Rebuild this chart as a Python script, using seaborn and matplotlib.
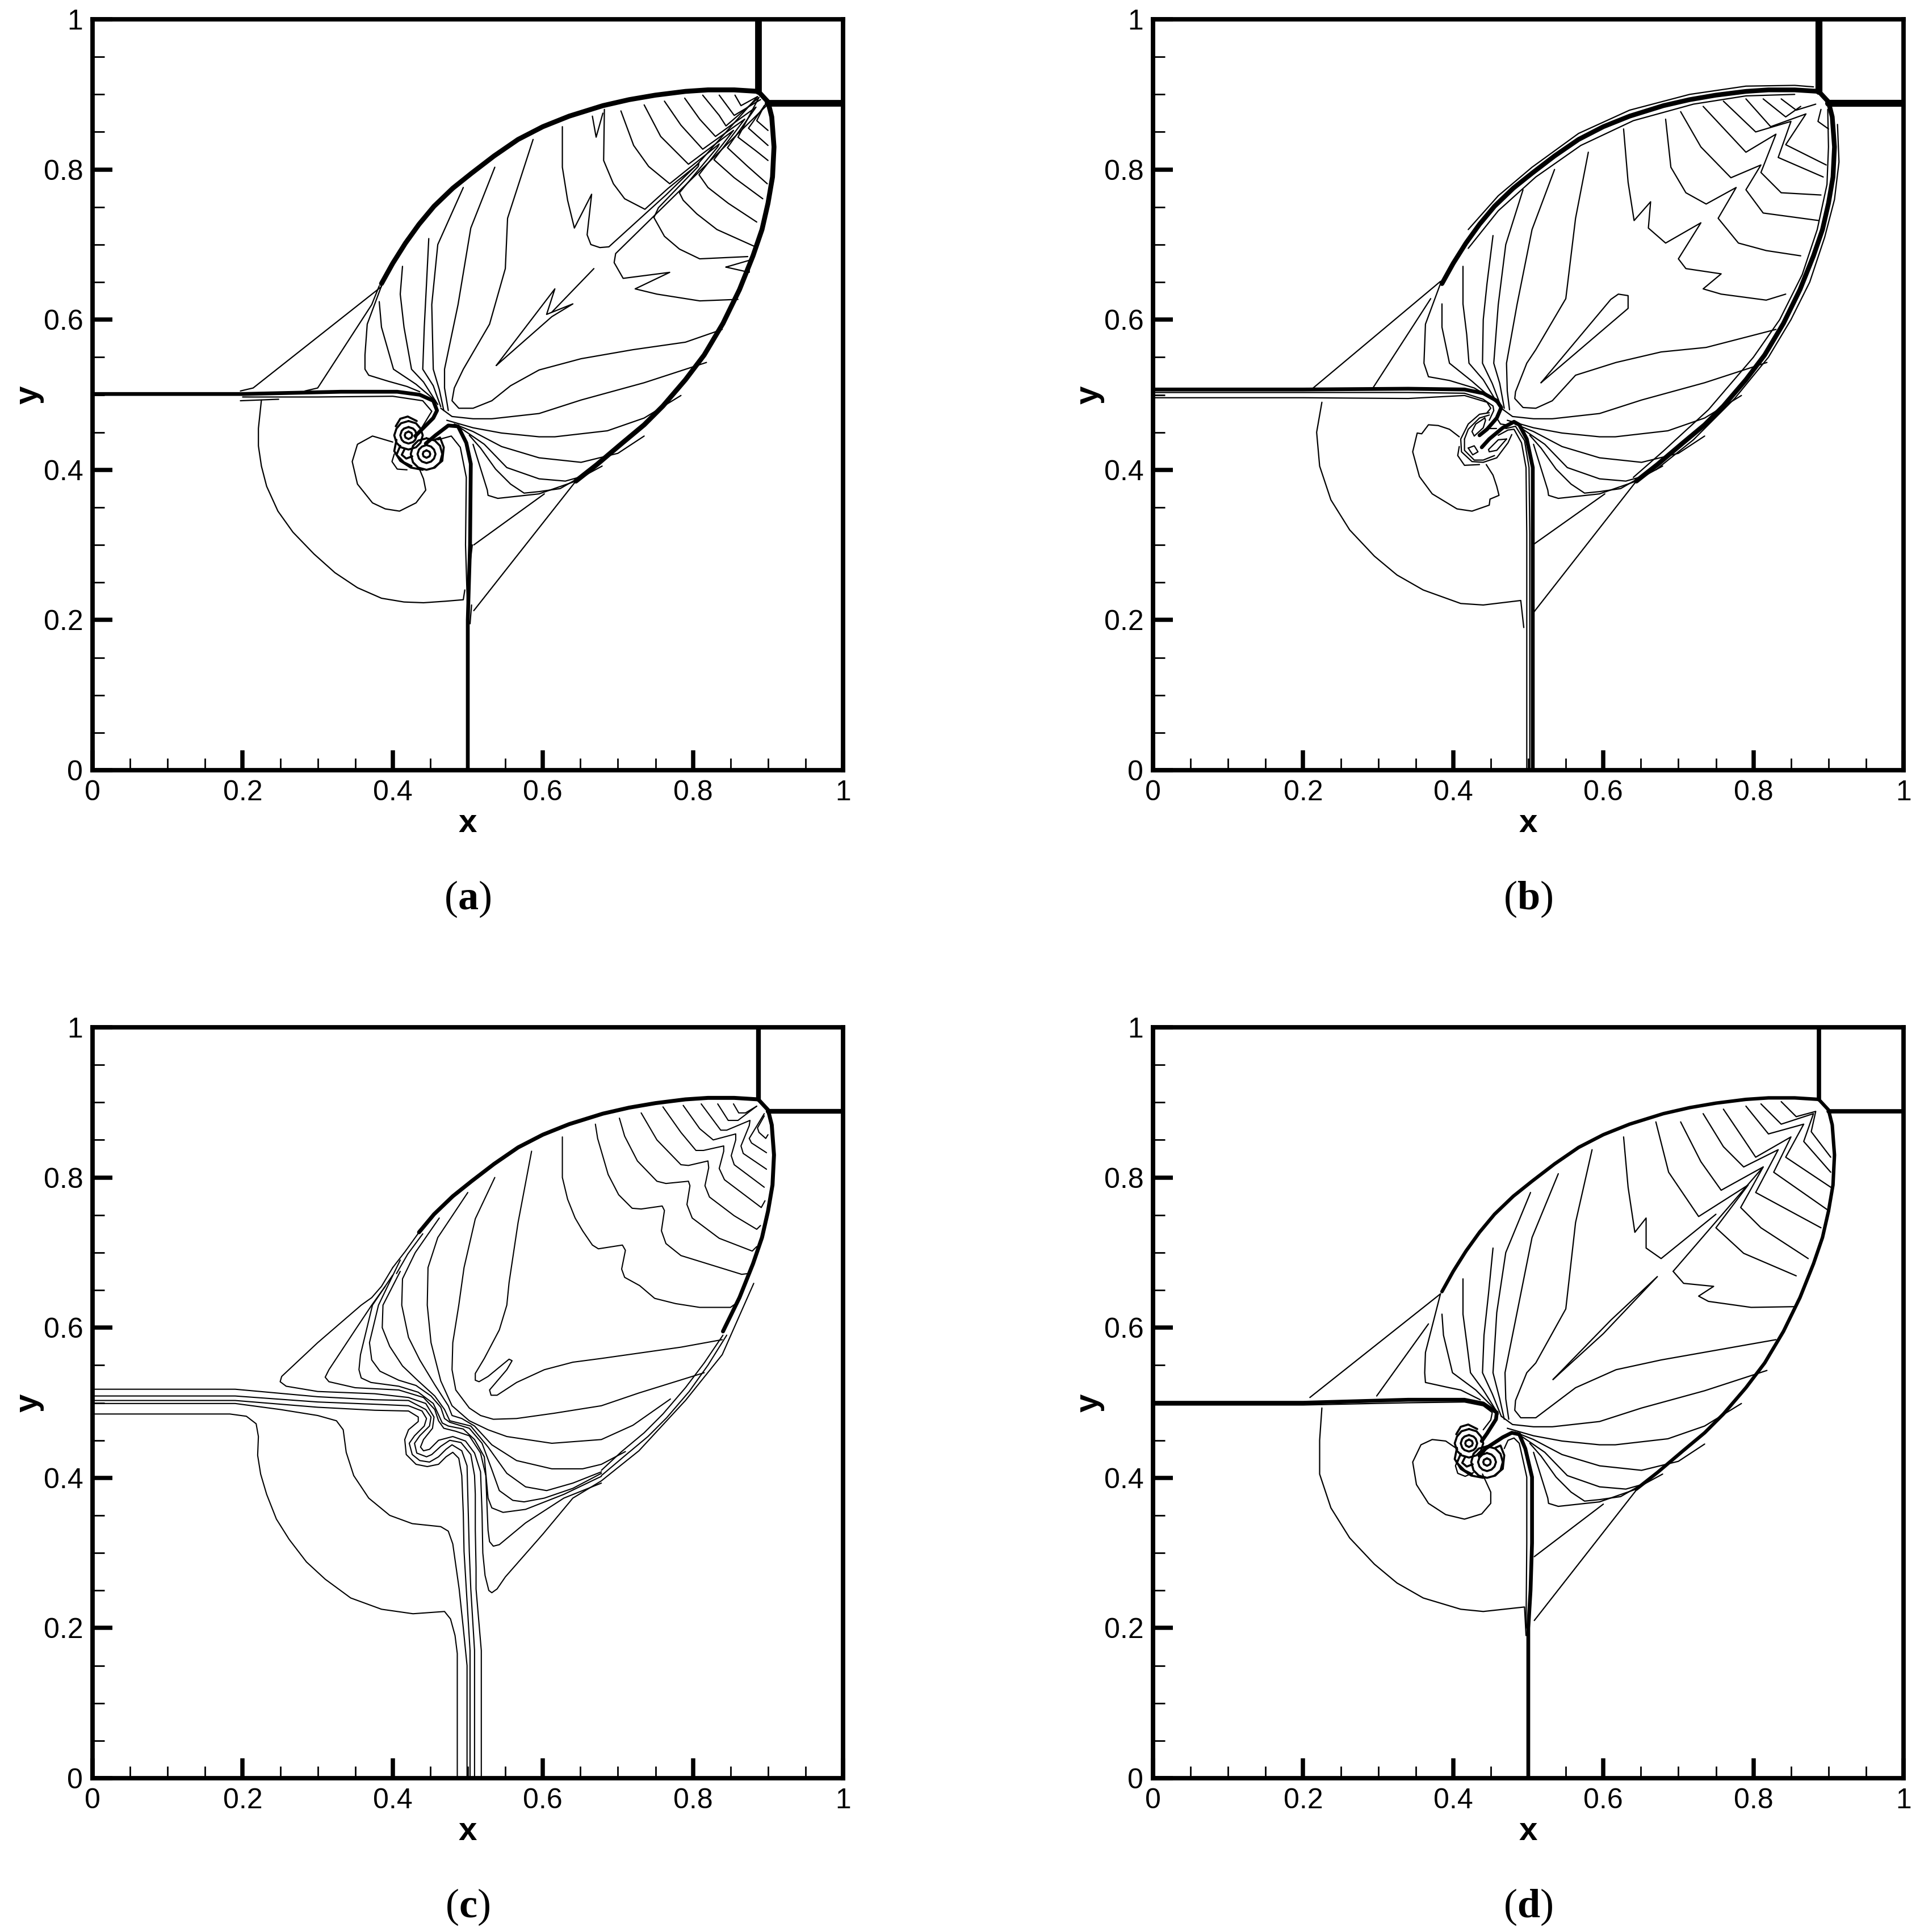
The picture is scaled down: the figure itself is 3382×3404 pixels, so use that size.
import matplotlib
matplotlib.use('Agg')
import matplotlib.pyplot as plt
import pandas as pd
import seaborn as sns

sns.set_theme(style='ticks', rc={'text.color': 'black', 'axes.labelcolor': 'black', 'axes.edgecolor': 'black',
                                 'xtick.color': 'black', 'ytick.color': 'black'})
plt.rcParams['font.family'] = ['Liberation Sans', 'DejaVu Sans']
plt.rcParams['mathtext.fontset'] = 'custom'
plt.rcParams['mathtext.rm'] = 'Liberation Serif'
plt.rcParams['mathtext.bf'] = 'Liberation Serif:bold'

major_ticks = [0, 0.2, 0.4, 0.6, 0.8, 1]
major_labels = ['0', '0.2', '0.4', '0.6', '0.8', '1']
minor_ticks = [0.05, 0.1, 0.15, 0.25, 0.3, 0.35, 0.45, 0.5, 0.55, 0.65, 0.7, 0.75, 0.85, 0.9, 0.95]
captions = ['a', 'b', 'c', 'd']

# contours, (x, y) per curve
bow = [(.385,.648),(.40,.675),(.417,.702),(.435,.727),(.455,.751),(.48,.775),(.505,.795),(.535,.818),(.567,.84),(.60,.857),(.635,.871),(.68,.885),(.715,.893),(.75,.899),(.79,.904),(.82,.906),(.855,.906),(.887,.904),(.9,.89),(.905,.87),(.908,.83),(.906,.79),(.90,.755),(.892,.72),(.88,.685),(.862,.64),(.84,.595),(.815,.553),(.79,.52),(.76,.485),(.735,.46),(.705,.435),(.672,.407),(.644,.385)]
c_bow = [(.435,.727),(.455,.751),(.48,.775),(.505,.795),(.535,.818),(.567,.84),(.60,.857),(.635,.871),(.68,.885),(.715,.893),(.75,.899),(.79,.904),(.82,.906),(.855,.906),(.887,.904),(.9,.89),(.905,.87),(.908,.83),(.906,.79),(.90,.755),(.892,.72),(.88,.685),(.862,.64),(.84,.595)]
slip_top = [(.887,1),(.887,.904)]
slip_right = [(.9,.888),(1,.888)]

fan_lower = [
    [(.464,.482),(.479,.471),(.507,.468),(.532,.468),(.595,.475),(.651,.493),(.735,.516),(.818,.543)],
    [(.472,.466),(.507,.456),(.545,.449),(.595,.444),(.616,.444),(.686,.452),(.735,.469),(.784,.499)],
    [(.482,.461),(.507,.451),(.545,.431),(.595,.416),(.651,.41),(.70,.422),(.735,.445)],
    [(.49,.456),(.522,.434),(.552,.403),(.595,.388),(.63,.385),(.655,.392),(.679,.405)],
    [(.502,.446),(.517,.429),(.537,.401),(.557,.381),(.575,.369),(.595,.371),(.623,.375),(.651,.391)],
    [(.507,.434),(.526,.373),(.527,.366),(.54,.362),(.595,.368),(.644,.385)],
]

vortex_rings = [
    [(.421,.465),(.431,.462),(.437,.455),(.44,.446),(.437,.436),(.431,.43),(.421,.427),(.411,.43),(.405,.436),(.402,.446),(.405,.455),(.411,.462),(.421,.465)],
    [(.421,.457),(.427,.455),(.43,.452),(.432,.446),(.43,.44),(.427,.437),(.421,.435),(.415,.437),(.412,.44),(.41,.446),(.412,.452),(.415,.455),(.421,.457)],
    [(.421,.451),(.425,.449),(.426,.446),(.425,.443),(.421,.441),(.417,.443),(.416,.446),(.417,.449),(.421,.451)],
    [(.445,.442),(.456,.439),(.463,.432),(.466,.421),(.463,.41),(.456,.403),(.445,.4),(.434,.403),(.427,.41),(.424,.421),(.427,.432),(.434,.439),(.445,.442)],
    [(.445,.433),(.451,.431),(.455,.427),(.457,.421),(.455,.415),(.451,.411),(.445,.409),(.439,.411),(.435,.415),(.433,.421),(.435,.427),(.439,.431),(.445,.433)],
    [(.445,.426),(.449,.424),(.45,.421),(.449,.418),(.445,.416),(.441,.418),(.44,.421),(.441,.424),(.445,.426)],
    [(.405,.44),(.402,.425),(.41,.412),(.424,.403),(.44,.4)],
    [(.41,.432),(.405,.42),(.415,.41),(.425,.405)],
    [(.416,.428),(.412,.42),(.418,.415),(.426,.418)],
    [(.404,.458),(.41,.468),(.42,.471),(.432,.465)],
    [(.456,.44),(.463,.443),(.468,.43),(.466,.412),(.455,.403)],
]

a_thick = [
    [(0,.501),(.2,.501),(.331,.504),(.406,.504),(.436,.5),(.454,.492),(.459,.479),(.454,.469),(.439,.454),(.43,.445)],
    [(.5,0),(.5,.2),(.503,.3),(.504,.408),(.498,.436),(.487,.458),(.474,.459),(.457,.446),(.444,.435)],
]
a_thin = [
    [(.197,.505),(.214,.509),(.385,.644)],
    [(.283,.505),(.30,.509),(.372,.62),(.382,.645)],
    [(.385,.645),(.366,.594),(.363,.553),(.363,.534),(.368,.526),(.394,.518),(.419,.511),(.436,.504)],
    [(.382,.624),(.385,.59),(.401,.534),(.431,.514),(.457,.492)],
    [(.413,.671),(.41,.634),(.415,.59),(.425,.534),(.441,.517),(.46,.487)],
    [(.448,.708),(.445,.648),(.442,.59),(.44,.534),(.454,.512),(.464,.484)],
    [(.494,.776),(.46,.70),(.452,.62),(.454,.534),(.462,.507),(.468,.479)],
    [(.536,.803),(.504,.722),(.487,.62),(.469,.534),(.469,.509),(.474,.479)],
    [(.587,.84),(.553,.735),(.55,.668),(.529,.594),(.494,.534),(.482,.509),(.479,.492),(.488,.482),(.507,.482),(.532,.492),(.557,.512),(.595,.533),(.651,.548),(.72,.56),(.79,.57),(.839,.587)],
    [(.626,.857),(.626,.803),(.633,.759),(.642,.722),(.665,.767),(.659,.713),(.664,.7),(.676,.696),(.688,.697),(.764,.766),(.807,.808),(.886,.897)],
    [(.666,.871),(.671,.843),(.68,.875)],
    [(.682,.88),(.681,.812),(.694,.781),(.709,.761),(.736,.747),(.767,.775),(.808,.808),(.807,.804),(.754,.749),(.748,.736),(.762,.711),(.782,.694),(.809,.681),(.873,.684)],
    [(.704,.878),(.721,.832),(.741,.804),(.769,.781),(.835,.834),(.833,.83),(.782,.769),(.787,.759),(.805,.741),(.832,.72),(.881,.698)],
    [(.735,.886),(.757,.844),(.774,.827),(.794,.807),(.854,.852),(.808,.793),(.82,.776),(.847,.755),(.885,.73)],
    [(.762,.891),(.784,.859),(.813,.827),(.869,.867),(.828,.813),(.855,.789),(.893,.761)],
    [(.789,.895),(.809,.867),(.83,.844),(.884,.883),(.846,.829),(.873,.804),(.899,.781)],
    [(.813,.899),(.835,.872),(.844,.858),(.888,.896),(.86,.843),(.885,.824),(.9,.812)],
    [(.835,.899),(.855,.872),(.89,.893)],
    [(.896,.886),(.874,.855),(.9,.832)],
    [(.856,.899),(.864,.885),(.886,.897)],
    [(.895,.885),(.885,.865),(.9,.852)],
    [(.898,.885),(.697,.688),(.695,.676),(.707,.655),(.769,.663),(.723,.641),(.752,.634),(.809,.625),(.86,.627)],
    [(.844,.67),(.875,.679),(.875,.663),(.844,.67)],
    [(.538,.539),(.616,.641),(.605,.607),(.64,.621),(.612,.604),(.538,.539)],
    [(.612,.61),(.668,.668)],
    [(.508,.30),(.602,.368)],
    [(.508,.2125),(.644,.385)],
    [(.506,.30),(.503,.275)],
    [(.505,.22),(.503,.195)],
    [(.197,.492),(.248,.494)],
    [(.225,.493),(.221,.455),(.221,.432),(.225,.405),(.232,.378),(.247,.345),(.267,.317),(.295,.288),(.323,.263),(.353,.243),(.385,.229),(.415,.224),(.441,.223),(.47,.225),(.494,.227),(.496,.24)],
    [(.40,.437),(.373,.445),(.353,.434),(.346,.411),(.353,.381),(.373,.356),(.39,.348),(.409,.345),(.431,.356),(.444,.373),(.441,.388),(.436,.4)],
    [(.402,.421),(.399,.411),(.406,.401),(.419,.4)],
    [(.2,.497),(.3,.497),(.4,.498),(.44,.492),(.452,.478),(.435,.45)],
    [(.5,.2),(.497,.3),(.498,.39),(.49,.43),(.478,.445),(.46,.44)],
]

b_thick = [
    [(0,.507),(.2,.507),(.34,.508),(.415,.507),(.44,.502),(.458,.492),(.464,.483),(.458,.469),(.445,.454),(.435,.446)],
    [(.506,0),(.506,.2),(.506,.315),(.506,.403),(.498,.441),(.488,.46),(.481,.464),(.466,.456),(.448,.441),(.438,.43)],
]
b_thin = [
    [(0,.503),(.2,.503),(.34,.503),(.415,.502),(.44,.494),(.453,.485),(.454,.479),(.448,.466)],
    [(0,.496),(.2,.496),(.34,.495),(.415,.499),(.445,.49),(.45,.482),(.445,.476)],
    [(.498,0),(.498,.2),(.498,.315),(.497,.403),(.491,.436),(.481,.454),(.473,.453),(.46,.446)],
    [(.502,0),(.502,.2),(.502,.315),(.501,.403),(.495,.439),(.483,.458),(.47,.455)],
    [(.42,.695),(.46,.745),(.51,.79),(.57,.832),(.64,.865),(.72,.887),(.79,.898),(.855,.9)],
    [(.42,.72),(.46,.765),(.505,.803),(.567,.848),(.635,.879),(.715,.9),(.79,.911),(.855,.912),(.88,.91)],
    [(.899,.88),(.9,.83),(.898,.78),(.885,.72),(.865,.66),(.835,.6),(.80,.55),(.74,.48),(.68,.425),(.64,.39)],
    [(.912,.86),(.914,.81),(.908,.76),(.895,.71),(.875,.65),(.85,.60),(.82,.55),(.775,.495),(.72,.44),(.67,.4)],
    [(.211,.507),(.383,.651)],
    [(.293,.509),(.37,.628)],
    [(.383,.648),(.363,.594),(.361,.542),(.367,.524),(.395,.519),(.428,.509),(.457,.492)],
    [(.385,.621),(.385,.59),(.395,.542),(.425,.518),(.457,.49)],
    [(.413,.671),(.413,.621),(.418,.58),(.421,.542),(.44,.52),(.46,.487)],
    [(.453,.712),(.445,.648),(.44,.6),(.439,.542),(.452,.515),(.463,.486)],
    [(.493,.773),(.47,.7),(.46,.62),(.454,.542),(.462,.515),(.468,.482)],
    [(.535,.80),(.505,.72),(.485,.62),(.471,.542),(.472,.505),(.475,.48)],
    [(.58,.823),(.563,.735),(.55,.628),(.51,.56),(.498,.542),(.483,.504),(.482,.495),(.493,.483),(.51,.482),(.532,.492),(.563,.526),(.617,.543),(.677,.557),(.737,.563),(.83,.587)],
    [(.517,.516),(.61,.627),(.62,.634),(.633,.632),(.633,.615),(.517,.516)],
    [(.627,.854),(.633,.783),(.641,.732),(.663,.757),(.66,.722),(.683,.702),(.73,.729),(.70,.681),(.71,.668),(.757,.661),(.733,.641),(.757,.634),(.817,.626),(.843,.634)],
    [(.683,.867),(.69,.803),(.71,.769),(.737,.754),(.777,.776),(.753,.735),(.78,.702),(.817,.692),(.863,.685)],
    [(.703,.877),(.73,.83),(.77,.789),(.81,.806),(.79,.773),(.813,.742),(.887,.732)],
    [(.733,.884),(.79,.823),(.83,.847),(.81,.796),(.837,.769),(.89,.766)],
    [(.76,.891),(.803,.85),(.85,.864),(.833,.816),(.893,.79)],
    [(.79,.894),(.823,.857),(.87,.874),(.843,.833),(.897,.806)],
    [(.813,.894),(.843,.87),(.863,.884)],
    [(.837,.894),(.857,.879),(.883,.887)],
    [(.89,.88),(.886,.864),(.9,.854)],
    [(.225,.49),(.218,.45),(.222,.405),(.237,.36),(.262,.32),(.295,.285),(.325,.26),(.36,.24),(.41,.222),(.44,.22),(.49,.226),(.494,.19)],
    [(.408,.444),(.395,.454),(.38,.459),(.367,.46),(.358,.448),(.352,.449),(.346,.424),(.355,.391),(.372,.368),(.405,.348),(.425,.345),(.448,.353),(.449,.361),(.461,.366),(.458,.378),(.453,.393),(.444,.407)],
    [(.408,.431),(.406,.419),(.415,.406),(.435,.407)],
    [(.506,.30),(.602,.368)],
    [(.507,.21),(.644,.385)],
    [(.448,.476),(.435,.474),(.42,.461),(.41,.441),(.411,.424),(.425,.411),(.44,.41),(.458,.416),(.473,.436),(.478,.447)],
    [(.415,.441),(.415,.426),(.428,.413),(.44,.413),(.455,.419)],
    [(.448,.473),(.435,.469),(.42,.454),(.415,.441)],
    [(.442,.469),(.43,.461),(.425,.451),(.428,.445),(.44,.456),(.443,.466),(.442,.469)],
    [(.42,.429),(.426,.42),(.433,.424),(.428,.432),(.42,.429)],
    [(.471,.441),(.458,.426),(.448,.424),(.447,.427),(.46,.44),(.471,.441)],
    [(.458,.469),(.463,.461),(.47,.46)],
    [(.448,.455),(.458,.455)],
]

c_thin = [
    [(.84,.59),(.815,.553),(.79,.52),(.76,.485),(.735,.46),(.705,.435),(.678,.41)],
    [(.845,.59),(.82,.55),(.795,.515),(.765,.48),(.74,.455),(.71,.43),(.678,.403)],
    [(.435,.727),(.417,.702),(.40,.68)],
    [(.44,.725),(.42,.698),(.405,.672)],
    [(0,.485),(.183,.485),(.205,.482),(.218,.472),(.221,.455),(.22,.43),(.224,.405),(.232,.378),(.245,.345),(.262,.318),(.285,.288),(.31,.265),(.344,.24),(.385,.225),(.427,.219),(.455,.221),(.469,.222),(.477,.212),(.483,.19),(.486,.166),(.486,0)],
    [(0,.499),(.19,.499),(.25,.491),(.30,.483),(.325,.476),(.334,.464),(.338,.434),(.348,.403),(.368,.373),(.396,.35),(.426,.339),(.464,.335),(.474,.329),(.48,.312),(.4885,.252),(.494,.2),(.499,.15),(.499,0)],
    [(0,.503),(.19,.503),(.3,.494),(.376,.49),(.421,.489),(.434,.481),(.434,.475),(.421,.464),(.416,.451),(.418,.431),(.431,.418),(.446,.415),(.461,.418),(.471,.428),(.48,.434),(.488,.426),(.492,.403),(.494,.353),(.495,.302),(.498,.252),(.503,.17),(.503,0)],
    [(0,.509),(.19,.509),(.30,.501),(.376,.498),(.421,.496),(.439,.489),(.445,.479),(.442,.469),(.429,.456),(.422,.446),(.426,.431),(.436,.423),(.449,.421),(.461,.428),(.471,.438),(.479,.444),(.492,.436),(.499,.416),(.5,.378),(.502,.302),(.504,.252),(.509,.17),(.509,0)],
    [(0,.518),(.19,.518),(.3,.508),(.376,.504),(.421,.503),(.444,.491),(.451,.481),(.449,.469),(.436,.456),(.429,.446),(.432,.433),(.445,.428),(.452,.431),(.464,.442),(.476,.45),(.491,.447),(.504,.431),(.509,.403),(.51,.378),(.51,.33),(.511,.28),(.511,.252),(.518,.17),(.518,0)],
    [(.40,.68),(.385,.655),(.372,.64),(.358,.63),(.30,.58),(.252,.535),(.25,.528),(.258,.522),(.30,.515),(.376,.512),(.421,.507),(.444,.499),(.455,.481),(.453,.466),(.441,.451),(.437,.441),(.441,.436),(.449,.438),(.461,.45),(.48,.455),(.497,.449),(.509,.433),(.517,.408),(.519,.353),(.52,.30),(.523,.27),(.528,.25),(.532,.247),(.539,.252),(.55,.268),(.60,.325),(.64,.373),(.678,.396),(.728,.436),(.79,.503),(.839,.564),(.881,.659)],
    [(.39,.655),(.372,.63),(.35,.597),(.315,.544),(.31,.534),(.315,.528),(.35,.52),(.408,.517),(.441,.507),(.456,.491),(.461,.476),(.468,.466),(.484,.462),(.502,.456),(.517,.433),(.524,.403),(.526,.353),(.527,.33),(.529,.315),(.534,.309),(.542,.311),(.577,.34),(.628,.373),(.678,.393)],
    [(.40,.67),(.373,.63),(.357,.564),(.355,.544),(.358,.533),(.371,.527),(.408,.522),(.434,.514),(.454,.499),(.461,.484),(.466,.473),(.474,.469),(.494,.465),(.509,.451),(.522,.428),(.527,.373),(.532,.36),(.547,.354),(.577,.358),(.628,.378),(.678,.402)],
    [(.41,.69),(.381,.63),(.369,.58),(.372,.557),(.383,.542),(.408,.53),(.431,.523),(.451,.509),(.464,.494),(.469,.479),(.476,.474),(.502,.466),(.519,.446),(.532,.411),(.542,.383),(.56,.37),(.575,.368),(.602,.373),(.64,.386),(.678,.406)],
    [(.41,.675),(.387,.63),(.386,.6),(.396,.575),(.413,.549),(.434,.529),(.456,.509),(.469,.491),(.476,.476),(.504,.469),(.527,.441),(.552,.406),(.577,.388),(.605,.383),(.64,.393),(.678,.408)],
    [(.462,.746),(.43,.70),(.413,.665),(.412,.63),(.421,.587),(.436,.557),(.456,.524),(.474,.496),(.479,.483),(.492,.479),(.509,.469),(.532,.444),(.565,.423),(.612,.412),(.653,.412),(.678,.418),(.71,.435)],
    [(.5,.78),(.46,.72),(.447,.68),(.446,.63),(.451,.58),(.464,.529),(.479,.496),(.502,.476),(.527,.464),(.552,.455),(.612,.446),(.678,.451),(.72,.47),(.77,.505)],
    [(.536,.80),(.51,.745),(.495,.68),(.488,.63),(.48,.58),(.479,.544),(.484,.517),(.502,.493),(.517,.483),(.534,.478),(.565,.479),(.615,.486),(.678,.496),(.728,.513),(.815,.54)],
    [(.585,.835),(.567,.74),(.555,.66),(.552,.63),(.542,.597),(.522,.559),(.51,.539),(.51,.53),(.515,.528),(.527,.535),(.555,.558),(.559,.556),(.552,.544),(.529,.517),(.531,.51),(.539,.51),(.565,.527),(.602,.544),(.64,.554),(.678,.559),(.784,.574),(.839,.584)],
    [(.626,.854),(.626,.8),(.633,.771),(.643,.746),(.653,.729),(.666,.71),(.674,.705),(.706,.71),(.71,.703),(.705,.678),(.709,.667),(.729,.656),(.749,.639),(.777,.632),(.809,.627),(.85,.627),(.857,.632)],
    [(.67,.871),(.673,.852),(.687,.804),(.701,.777),(.719,.759),(.731,.758),(.759,.762),(.762,.756),(.758,.729),(.764,.712),(.784,.696),(.865,.671),(.873,.672)],
    [(.702,.879),(.709,.855),(.726,.822),(.752,.795),(.764,.792),(.794,.795),(.796,.789),(.792,.764),(.799,.746),(.835,.719),(.879,.702),(.885,.708)],
    [(.731,.886),(.752,.85),(.784,.817),(.794,.816),(.82,.822),(.821,.813),(.816,.789),(.822,.774),(.855,.749),(.885,.731),(.89,.736)],
    [(.76,.894),(.784,.86),(.804,.836),(.814,.836),(.841,.842),(.841,.835),(.835,.812),(.842,.797),(.891,.76),(.896,.769)],
    [(.787,.896),(.809,.865),(.827,.85),(.857,.858),(.857,.85),(.851,.829),(.855,.817),(.895,.787)],
    [(.811,.898),(.837,.863),(.845,.863),(.876,.876),(.875,.869),(.864,.842),(.867,.832),(.898,.811)],
    [(.833,.898),(.847,.876),(.86,.876),(.885,.895)],
    [(.895,.885),(.875,.852),(.878,.846),(.898,.833)],
    [(.854,.898),(.861,.886),(.87,.886),(.885,.895)],
    [(.895,.882),(.886,.866),(.888,.86),(.897,.852),(.9,.857)],
]

d_thick = [
    [(0,.5),(.2,.5),(.34,.504),(.415,.504),(.44,.499),(.458,.487),(.457,.478),(.445,.459),(.438,.449)],
    [(.5,0),(.5,.2),(.503,.25),(.505,.313),(.505,.401),(.496,.439),(.488,.458),(.478,.46),(.466,.454),(.443,.439),(.435,.429)],
]
d_thin = [
    [(0,.497),(.2,.497),(.34,.5),(.415,.501),(.44,.496),(.452,.487),(.45,.477),(.44,.464)],
    [(.497,.2),(.498,.313),(.498,.401),(.488,.446),(.481,.453),(.473,.45),(.468,.439)],
    [(.209,.507),(.383,.645)],
    [(.298,.509),(.367,.605)],
    [(.383,.645),(.363,.567),(.362,.54),(.363,.527),(.395,.52),(.41,.517),(.436,.504)],
    [(.385,.618),(.387,.59),(.399,.54),(.43,.517),(.457,.49)],
    [(.413,.665),(.413,.618),(.418,.58),(.423,.54),(.44,.517),(.46,.485)],
    [(.453,.706),(.447,.645),(.441,.59),(.439,.54),(.452,.512),(.464,.482)],
    [(.503,.78),(.47,.7),(.458,.62),(.453,.54),(.462,.505),(.468,.478)],
    [(.54,.805),(.505,.72),(.485,.62),(.469,.54),(.47,.505),(.474,.478)],
    [(.585,.837),(.563,.74),(.55,.625),(.51,.553),(.498,.54),(.483,.503),(.482,.49),(.49,.48),(.51,.48),(.563,.52),(.617,.544),(.677,.557),(.83,.584)],
    [(.533,.531),(.6,.592),(.672,.668),(.61,.61),(.533,.531)],
    [(.627,.854),(.633,.787),(.642,.727),(.657,.746),(.657,.706),(.677,.692),(.75,.751)],
    [(.67,.874),(.687,.807),(.727,.748),(.793,.79),(.75,.733),(.787,.699),(.857,.669)],
    [(.703,.874),(.73,.821),(.757,.783),(.813,.814),(.783,.76),(.81,.733),(.873,.692)],
    [(.733,.885),(.76,.841),(.787,.814),(.833,.837),(.803,.78),(.89,.733)],
    [(.76,.891),(.787,.851),(.803,.827),(.85,.854),(.827,.807),(.9,.756)],
    [(.79,.895),(.82,.858),(.867,.871),(.843,.827),(.903,.787)],
    [(.81,.898),(.837,.871),(.88,.885),(.867,.848),(.903,.807)],
    [(.837,.901),(.857,.881),(.883,.888),(.877,.861),(.903,.827)],
    [(.693,.675),(.813,.814)],
    [(.693,.675),(.707,.659),(.747,.655),(.727,.642),(.74,.635),(.797,.627),(.857,.628)],
    [(.508,.295),(.60,.365)],
    [(.508,.21),(.645,.385)],
    [(.225,.493),(.222,.45),(.222,.405),(.237,.36),(.262,.32),(.295,.285),(.325,.26),(.36,.24),(.41,.225),(.44,.222),(.495,.228),(.497,.19)],
    [(.406,.438),(.39,.449),(.372,.451),(.357,.444),(.346,.421),(.351,.391),(.367,.366),(.39,.351),(.415,.345),(.438,.352),(.45,.366),(.45,.381),(.439,.405)],
    [(.406,.424),(.403,.416),(.406,.406),(.416,.402),(.427,.407)],
]


def to_frame(curves):
    rows = []
    for i, curve in enumerate(curves):
        for x, y in curve:
            rows.append((i, x, y))
    return pd.DataFrame(rows, columns=['curve', 'x', 'y'])


def draw(ax, curves, lw):
    if not curves:
        return
    sns.lineplot(data=to_frame(curves), x='x', y='y', units='curve', estimator=None,
                 sort=False, color='black', linewidth=lw, ax=ax, legend=False,
                 solid_joinstyle='round')


panels = [
    (a_thin + fan_lower, a_thick, vortex_rings, bow, 6.2, 8.5, 1.6),
    (b_thin + fan_lower, b_thick, [], bow, 6.0, 8.8, 1.6),
    (c_thin, [], [], c_bow, 5.0, 6.0, 1.5),
    (d_thin + fan_lower, d_thick, vortex_rings, bow, 4.4, 5.5, 1.6),
]
boxes = [(163, 34), (2031, 34), (163, 1810), (2031, 1810)]
W, H = 3382, 3404
AW, AH = 1322, 1323

fig = plt.figure(figsize=(W / 100, H / 100), dpi=100, facecolor='white')

for (thin, thick, rings, shock, bow_lw, slip_lw, thin_lw), (left, top), cap in zip(panels, boxes, captions):
    ax = fig.add_axes([left / W, 1 - (top + AH) / H, AW / W, AH / H])
    draw(ax, thin, thin_lw)
    draw(ax, rings, 2.6)
    draw(ax, thick, 4.8)
    draw(ax, [shock], bow_lw)
    draw(ax, [slip_top, slip_right], slip_lw)
    ax.set_xlim(0, 1)
    ax.set_ylim(0, 1)
    ax.set_xticks(major_ticks, major_labels)
    ax.set_yticks(major_ticks, major_labels)
    ax.set_xticks(minor_ticks, minor=True)
    ax.set_yticks(minor_ticks, minor=True)
    ax.tick_params(which='major', direction='in', length=25, width=5.4, labelsize=36, pad=12)
    ax.tick_params(which='minor', direction='in', length=15, width=2)
    for s in ax.spines.values():
        s.set_linewidth(5.6)
        s.set_visible(True)
    ax.set_xlabel('x', fontsize=42, fontweight='bold', labelpad=3)
    ax.set_ylabel('y', fontsize=42, fontweight='bold', labelpad=-1)
    fig.text((left + AW / 2) / W, 1 - (top + AH + 227) / H, r'($\mathbf{%s}$)' % cap,
             family='Liberation Serif', fontsize=52, ha='center', va='center')

fig.savefig('out.png', dpi=100)
